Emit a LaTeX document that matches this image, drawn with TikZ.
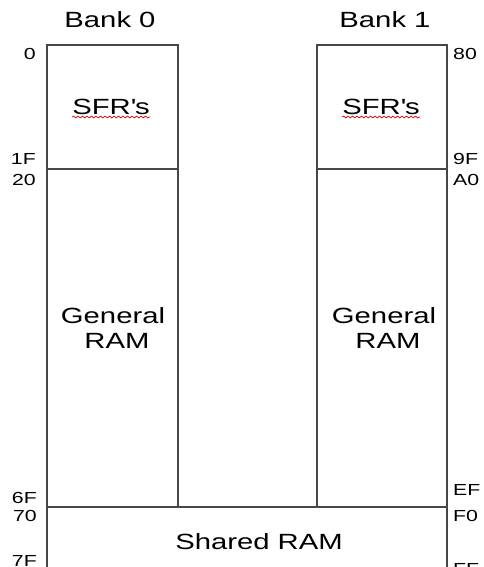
\documentclass[tikz,border=0pt]{standalone}
\usepackage{fontspec}
\setmainfont{Liberation Sans}[FakeStretch=1.33]
\usetikzlibrary{decorations.pathmorphing}
\begin{document}
\begin{tikzpicture}[x=1pt,y=-1pt,
  box/.style={draw=black!72,line width=1.7pt,anchor=north west,inner sep=0pt},
  big/.style={font=\fontsize{22}{26}\selectfont,anchor=base,inner sep=0pt,text=black},
  addr/.style={font=\fontsize{16}{19}\selectfont,inner sep=0pt,text=black},
  laddr/.style={addr,anchor=base east},
  raddr/.style={addr,anchor=base west},
  squiggle/.style={red!85!black,line width=0.7pt,decorate,decoration={snake,amplitude=0.9pt,segment length=4.5pt}}]
\useasboundingbox (0,0) rectangle (483,567);
\clip (0,0) rectangle (483,567);
% boxes
\node[box,minimum width=131pt,minimum height=124pt] (sfr0) at (46,44) {};
\node[box,minimum width=131pt,minimum height=338pt] (gen0) at (46,168) {};
\node[box,minimum width=130pt,minimum height=124pt] (sfr1) at (316,44) {};
\node[box,minimum width=130pt,minimum height=338pt] (gen1) at (316,168) {};
\node[box,minimum width=400pt,minimum height=100pt] (shared) at (46,506) {};
% titles
\node[big] (t0) at (110,28) {Bank 0};
\node[big] (t1) at (385,28) {Bank 1};
% contents
\node[big] (s0) at (111,115) {SFR\textquotesingle s};
\node[big] (s1) at (381,115) {SFR\textquotesingle s};
\draw[squiggle] ([yshift=-2pt]s0.base west) -- ([yshift=-2pt]s0.base east);
\draw[squiggle] ([yshift=-2pt]s1.base west) -- ([yshift=-2pt]s1.base east);
\node[big] (g0a) at (113,323) {General};
\node[big] (g0b) at (117,348) {RAM};
\node[big] (g1a) at (384,323) {General};
\node[big] (g1b) at (388,348) {RAM};
\node[big] (sh) at (259,549) {Shared RAM};
% left addresses
\node[laddr] (a00) at (36,60) {0};
\node[laddr] (a1F) at (36,164) {1F};
\node[laddr] (a20) at (36,185) {20};
\node[laddr] (a6F) at (37,503) {6F};
\node[laddr] (a70) at (37,521) {70};
\node[laddr] (a7F) at (37,566) {7F};
% right addresses
\node[raddr] (a80) at (453,60) {80};
\node[raddr] (a9F) at (453,164) {9F};
\node[raddr] (aA0) at (453,185) {A0};
\node[raddr] (aEF) at (453,495) {EF};
\node[raddr] (aF0) at (453,521) {F0};
\node[raddr] (aFF) at (453,574) {FF};
\end{tikzpicture}
\end{document}
